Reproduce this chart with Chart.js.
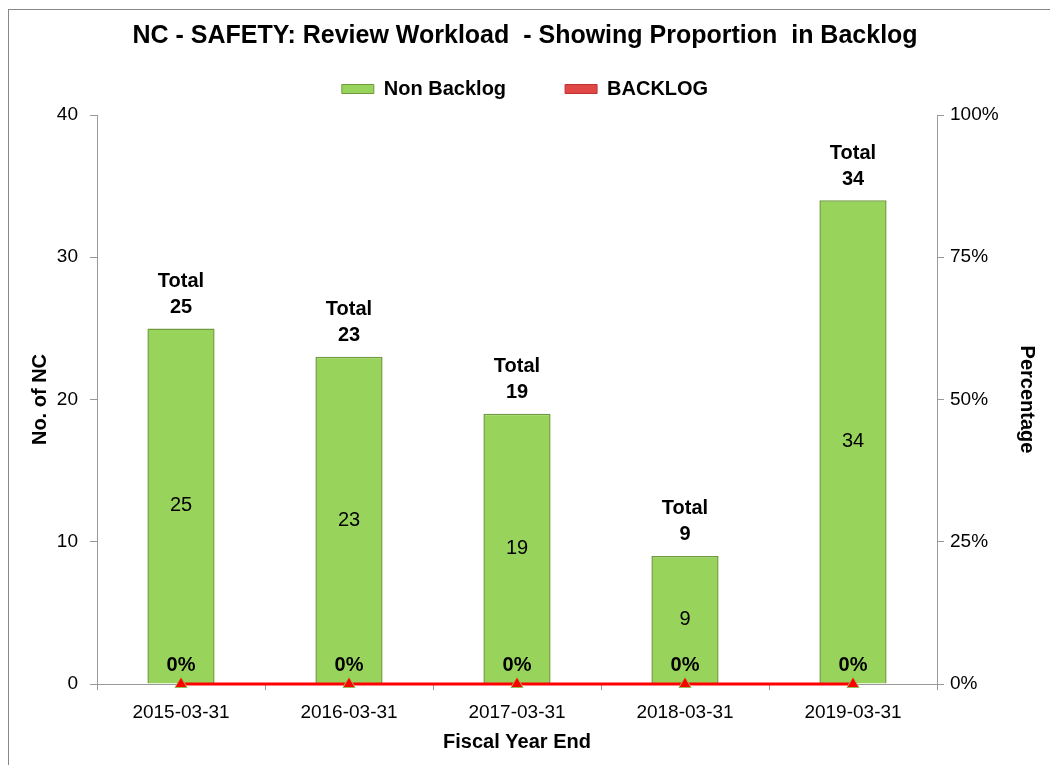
<!DOCTYPE html>
<html lang="en">
  <head>
    <meta charset="UTF-8" />
    <title>NC - SAFETY Review Workload</title>
    <script src="https://cdn.jsdelivr.net/npm/chart.js"></script>
    <style>
      body { margin: 0; background: #fff; }
      #wrap { position: relative; width: 1050px; height: 765px; }
      #frame { position: absolute; left: 8px; top: 9px; width: 1100px; height: 800px; border: 1px solid #888; box-sizing: border-box; }
    </style>
  </head>
  <body>
    <div id="wrap">
      <div id="frame"></div>
      <canvas id="myChart" width="1050" height="765"></canvas>
    </div>

    <script>
      // data
      const years = ['2015-03-31', '2016-03-31', '2017-03-31', '2018-03-31', '2019-03-31'];
      const nonBacklog = [25, 23, 19, 9, 34];
      const backlogPct = [0, 0, 0, 0, 0];
      const totals = [25, 23, 19, 9, 34];

      const font = 'Liberation Sans, Arial, sans-serif';
      Chart.defaults.font.family = font;
      Chart.defaults.color = '#000';

      // legend box outlines, by dataset index
      const legendStroke = ['#6f9a3e', '#c03030'];

      // draws "Total N", the value in the bar and the backlog percentage
      const labelPlugin = {
        id: 'labels',
        afterDatasetsDraw(chart) {
          const ctx = chart.ctx;
          const bars = chart.getDatasetMeta(0).data;
          const pts = chart.getDatasetMeta(1).data;
          ctx.save();
          ctx.textAlign = 'center';
          ctx.textBaseline = 'middle';
          ctx.fillStyle = '#000';
          bars.forEach((bar, i) => {
            ctx.font = 'bold 20px ' + font;
            ctx.fillText('Total', bar.x, bar.y - 47);
            ctx.fillText(String(totals[i]), bar.x, bar.y - 21);
            ctx.font = '20px ' + font;
            ctx.fillText(String(nonBacklog[i]), bar.x, (bar.y + bar.base) / 2);
          });
          ctx.font = 'bold 20px ' + font;
          pts.forEach((p, i) => {
            ctx.fillText(backlogPct[i] + '%', p.x, p.y - 19);
          });
          ctx.restore();
        }
      };

      const ctx = document.getElementById('myChart').getContext('2d');
      const myChart = new Chart(ctx, {
        type: 'bar',
        data: {
          labels: years,
          datasets: [{
            label: 'Non Backlog',
            data: nonBacklog,
            backgroundColor: '#98d45b',
            borderColor: '#6f9a3e',
            borderWidth: 1.5,
            barPercentage: 0.4,
            categoryPercentage: 1,
            yAxisID: 'y',
            order: 2
          }, {
            type: 'line',
            label: 'BACKLOG',
            data: backlogPct,
            borderColor: '#ff0000',
            backgroundColor: '#e04848',
            borderWidth: 3,
            pointStyle: 'triangle',
            pointRadius: 7,
            pointBackgroundColor: '#ff0000',
            pointBorderColor: '#9bbb59',
            pointBorderWidth: 1,
            yAxisID: 'y1',
            clip: false,
            order: 1
          }]
        },
        options: {
          responsive: false,
          animation: false,
          plugins: {
            title: {
              display: true,
              text: 'NC - SAFETY: Review Workload  - Showing Proportion  in Backlog',
              font: { size: 25, weight: 'bold' },
              padding: { top: 21, bottom: -31 }
            },
            // empty subtitle used as a spacer between legend and plot
            subtitle: {
              display: true,
              text: '',
              weight: 500,
              font: { size: 5 },
              padding: { top: 0, bottom: 0 }
            },
            legend: {
              labels: {
                font: { size: 20, weight: 'bold' },
                boxWidth: 32,
                boxHeight: 9,
                padding: 59,
                sort: (a, b) => a.datasetIndex - b.datasetIndex,
                generateLabels(chart) {
                  const items = Chart.defaults.plugins.legend.labels.generateLabels(chart);
                  items.forEach(it => {
                    it.lineWidth = 1;
                    it.strokeStyle = legendStroke[it.datasetIndex];
                  });
                  return items;
                }
              }
            },
            tooltip: { enabled: false }
          },
          scales: {
            x: {
              grid: { drawOnChartArea: false, tickLength: 6, color: '#999' },
              border: { color: '#999' },
              ticks: { font: { size: 19 }, padding: 11 },
              title: { display: true, text: 'Fiscal Year End', font: { size: 20, weight: 'bold' }, padding: { top: 11, bottom: 11 } },
              afterFit(scale) { scale.height = 81; }
            },
            y: {
              position: 'left',
              min: 0,
              max: 40,
              ticks: { stepSize: 10, font: { size: 19 }, padding: 12 },
              grid: { drawOnChartArea: false, tickLength: 7, color: '#999' },
              border: { color: '#999' },
              title: { display: true, text: 'No. of NC', font: { size: 20, weight: 'bold' }, padding: { top: 28, bottom: 28 } },
              afterFit(scale) { scale.width = 97; }
            },
            y1: {
              position: 'right',
              min: 0,
              max: 1,
              ticks: {
                stepSize: 0.25,
                font: { size: 19 },
                padding: 6,
                callback: v => Math.round(v * 100) + '%'
              },
              grid: { drawOnChartArea: false, tickLength: 7, color: '#999' },
              border: { color: '#999' },
              title: { display: true, text: 'Percentage', font: { size: 20, weight: 'bold' }, padding: { top: 11, bottom: 11 } },
              afterFit(scale) { scale.width = 113; }
            }
          }
        },
        plugins: [labelPlugin]
      });
    </script>
  </body>
</html>
